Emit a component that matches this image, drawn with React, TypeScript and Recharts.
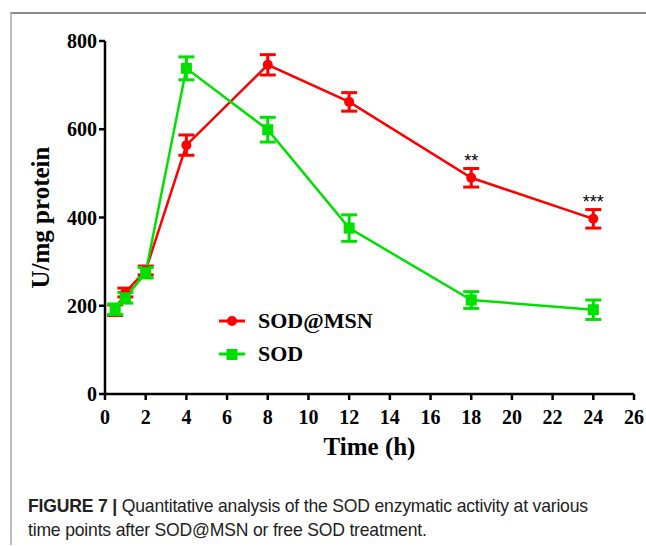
import { ErrorBar, Label, LabelList, Legend, Line, LineChart, XAxis, YAxis } from "recharts";

const timePoints = [0.5, 1, 2, 4, 8, 12, 18, 24];
const sodMsnValues = [190, 230, 280, 564, 746, 662, 490, 397];
const sodMsnErrors = [12, 10, 10, 23, 23, 21, 21, 21];
const sodValues = [192, 218, 275, 738, 599, 376, 213, 191];
const sodErrors = [12, 12, 12, 26, 28, 30, 19, 22];
const significance = ["", "", "", "", "", "", "**", "***"];
const xTicks = [0, 2, 4, 6, 8, 10, 12, 14, 16, 18, 20, 22, 24, 26];
const yTicks = [0, 200, 400, 600, 800];
const legendOrder = ["sodMsn", "sod"];

const RED = "#ff0000";
const GREEN = "#00e000";
const serif = "'Liberation Serif', 'Times New Roman', serif";

const data = timePoints.map((t, i) => ({
	time: t,
	sodMsn: sodMsnValues[i],
	sodMsnErr: sodMsnErrors[i],
	sod: sodValues[i],
	sodErr: sodErrors[i],
	sig: significance[i],
}));

const SquareDot = (props: any) => {
	const { cx, cy } = props;
	if (cx == null || cy == null) return null;
	return <rect x={cx - 5.5} y={cy - 5.5} width={11} height={11} fill={GREEN} />;
};

const renderLegend = ({ payload }: any) => {
	const entries = [...(payload || [])].sort(
		(a: any, b: any) => legendOrder.indexOf(a.dataKey) - legendOrder.indexOf(b.dataKey)
	);
	return (
		<div>
			{entries.map((entry: any) => {
				const isSod = entry.dataKey === "sod";
				const color = isSod ? GREEN : RED;
				return (
					<div key={entry.dataKey} style={{ display: "flex", alignItems: "center", height: 33 }}>
						<svg width={26} height={14} style={{ marginRight: 13 }}>
							<line x1={0} y1={7} x2={26} y2={7} stroke={color} strokeWidth={3} />
							{isSod ? (
								<rect x={7.5} y={2} width={11} height={11} fill={color} />
							) : (
								<circle cx={13} cy={7} r={5} fill={color} />
							)}
						</svg>
						<span style={{ fontFamily: serif, fontWeight: "bold", fontSize: 22, color: "#000" }}>
							{entry.value}
						</span>
					</div>
				);
			})}
		</div>
	);
};

const renderSig = (props: any) => {
	const { x, y, value } = props;
	if (!value) return null;
	return (
		<text x={x} y={y - 11} textAnchor="middle" fontSize={18} fontFamily="'Liberation Sans', Arial, sans-serif" fill="#000">
			{value}
		</text>
	);
};

const renderYLabel = (props: any) => {
	const { viewBox } = props;
	const cx = viewBox.x + 40;
	const cy = viewBox.y + viewBox.height / 2;
	return (
		<text
			x={cx}
			y={cy}
			transform={`rotate(-90, ${cx}, ${cy})`}
			textAnchor="middle"
			dominantBaseline="central"
			fontFamily={serif}
			fontWeight="bold"
			fontSize={25}
			fill="#000"
		>
			U/mg protein
		</text>
	);
};

const tickStyle = { fontFamily: serif, fontWeight: "bold", fontSize: 20, fill: "#000" };

export default function App() {
	return (
		<div style={{ position: "absolute", left: 0, top: 0, width: 646, height: 546, background: "#fff", overflow: "hidden" }}>
			<div
				style={{
					position: "absolute",
					left: 10,
					top: 12,
					width: 660,
					height: 531,
					borderTop: "2px solid #8c8c8c",
					borderLeft: "2px solid #bdbdbd",
				}}
			/>
			<div style={{ position: "absolute", left: 0, top: 0 }}>
				<LineChart width={646} height={470} data={data} margin={{ top: 41, right: 12, left: 0, bottom: 15 }}>
					<XAxis
						dataKey="time"
						type="number"
						domain={[0, 26]}
						ticks={xTicks}
						interval={0}
						height={61}
						axisLine={{ stroke: "#000", strokeWidth: 2.5 }}
						tickLine={{ stroke: "#000", strokeWidth: 2.5 }}
						tickSize={6}
						tickMargin={10}
						tick={tickStyle}
					>
						<Label
							value="Time (h)"
							position="insideBottom"
							offset={0}
							style={{ fontFamily: serif, fontWeight: "bold", fontSize: 25, fill: "#000" }}
						/>
					</XAxis>
					<YAxis
						type="number"
						domain={[0, 800]}
						ticks={yTicks}
						interval={0}
						width={105}
						axisLine={{ stroke: "#000", strokeWidth: 2.5 }}
						tickLine={{ stroke: "#000", strokeWidth: 2.5 }}
						tickSize={6}
						tickMargin={2}
						tick={tickStyle}
					>
						<Label content={renderYLabel} />
					</YAxis>
					<Legend
						layout="vertical"
						align="center"
						verticalAlign="middle"
						content={renderLegend}
						wrapperStyle={{ left: 219, top: 304, width: 200 }}
					/>
					<Line
						dataKey="sodMsn"
						name="SOD@MSN"
						stroke={RED}
						strokeWidth={2.5}
						dot={{ r: 5, fill: RED, stroke: RED, strokeWidth: 0 }}
						activeDot={false}
						isAnimationActive={false}
					>
						<ErrorBar dataKey="sodMsnErr" direction="y" width={8} stroke={RED} strokeWidth={3} />
						<LabelList dataKey="sig" content={renderSig} />
					</Line>
					<Line
						dataKey="sod"
						name="SOD"
						stroke={GREEN}
						strokeWidth={2.5}
						dot={<SquareDot />}
						activeDot={false}
						isAnimationActive={false}
					>
						<ErrorBar dataKey="sodErr" direction="y" width={8} stroke={GREEN} strokeWidth={3} />
					</Line>
				</LineChart>
			</div>
			<div
				style={{
					position: "absolute",
					left: 28,
					top: 494,
					fontFamily: "'Liberation Sans', Arial, sans-serif",
					fontSize: 19,
					lineHeight: "24px",
					color: "#222",
					whiteSpace: "nowrap",
					transform: "scaleX(0.925)",
					transformOrigin: "left top",
					letterSpacing: "-0.2px",
				}}
			>
				<span style={{ fontWeight: "bold" }}>FIGURE 7 | </span>
				Quantitative analysis of the SOD enzymatic activity at various
				<br />
				time points after SOD@MSN or free SOD treatment.
			</div>
		</div>
	);
}
